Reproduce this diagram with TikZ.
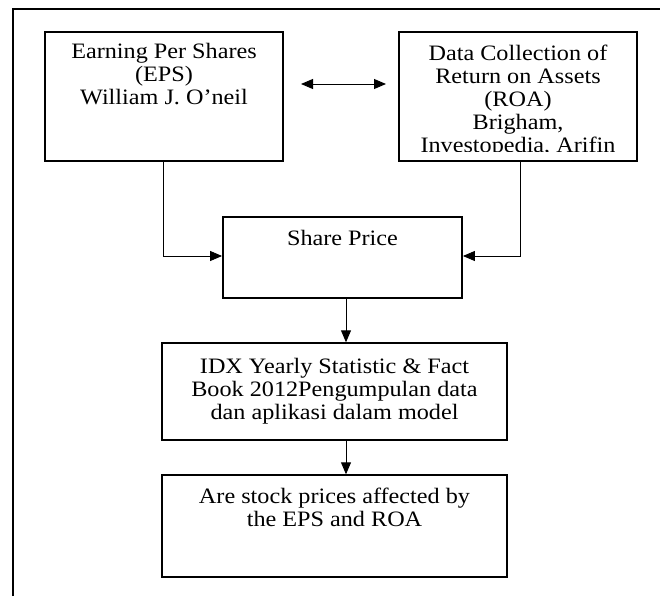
\documentclass[tikz,border=0pt]{standalone}
\usepackage{fontspec}
\setmainfont{Liberation Serif}[FakeStretch=1.1]
\usetikzlibrary{arrows.meta}

\tikzset{
  box/.style={draw, line width=1.4pt, inner sep=0pt, minimum width=#1},
  caption/.style={anchor=north, inner sep=0pt, align=center,
    font=\fontsize{22}{23}\selectfont},
  link/.style={line width=0.9pt, -{Triangle[length=12pt,width=10pt]}},
  twoway/.style={line width=0.9pt, {Triangle[length=12pt,width=10pt]}-{Triangle[length=12pt,width=10pt]}}
}

\begin{document}
\begin{tikzpicture}[x=1pt, y=-1pt]
  \useasboundingbox (0,0) rectangle (660,596);

  % outer frame, cut off at the right and at the bottom
  \draw[line width=1.4pt] (13,596) -- (13,9) -- (660,9);

  % boxes
  \node[box=238pt, minimum height=129pt] (eps)   at (164,96.5) {};
  \node[box=238pt, minimum height=129pt] (roa)   at (518,96.5) {};
  \node[box=239pt, minimum height=81pt, line width=1.8pt] (price) at (342.5,257.5) {};
  \node[box=345pt, minimum height=97pt]  (idx)   at (334.5,391.5) {};
  \node[box=345pt, minimum height=102pt] (ques)  at (334.5,526) {};

  % box texts
  \node[caption] (epst) at (164,43) {Earning Per Shares\\(EPS)\\William J. O’neil};
  \begin{scope}
    \clip (399,32) rectangle (637,152);
    \node[caption] (roat) at (518,45) {Data Collection of\\Return on Assets\\(ROA)\\Brigham,\\Investopedia, Arifin};
  \end{scope}
  \node[caption] (pricet) at (342.5,230) {Share Price};
  \node[caption] (idxt) at (334.5,358) {IDX Yearly Statistic \& Fact\\Book 2012Pengumpulan data\\dan aplikasi dalam model};
  \node[caption] (quest) at (334.5,488) {Are stock prices affected by\\the EPS and ROA};

  % connectors
  \coordinate (da) at (301,84);
  \coordinate (db) at (386,84);
  \draw[twoway] (da) -- (db);

  \draw[link] ([xshift=-1pt]eps.south) |- ([yshift=1.5pt]price.west);
  \draw[link] ([xshift=2pt]roa.south) |- ([yshift=1.5pt]price.east);
  \draw[link] ([xshift=3.5pt]price.south) -- ([xshift=3.5pt]price.south |- idx.north);
  \draw[link] ([xshift=11.5pt]idx.south) -- ([xshift=11.5pt]idx.south |- ques.north);
\end{tikzpicture}
\end{document}
